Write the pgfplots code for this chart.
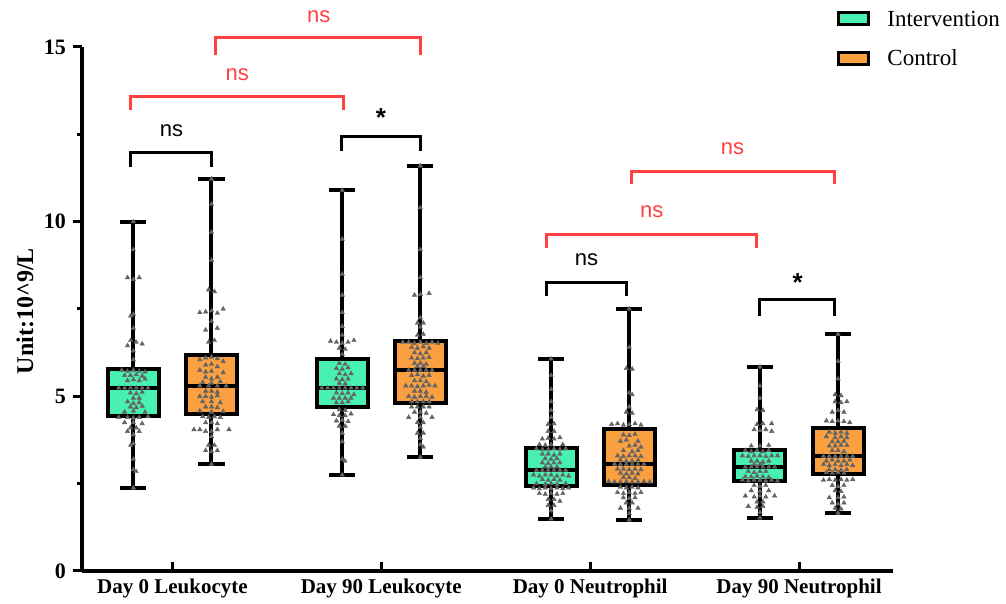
\documentclass[border=0pt]{standalone}
\usepackage{fontspec}
\setmainfont{Liberation Serif}
\newfontfamily\arial{Liberation Sans}
\usepackage{pgfplots}
\pgfplotsset{compat=1.18}
\usepgfplotslibrary{statistics}
\definecolor{interv}{RGB}{72,240,178}
\definecolor{ctrl}{RGB}{250,160,64}
\definecolor{sigred}{RGB}{255,64,64}
\definecolor{pts}{RGB}{100,100,100}
\begin{document}
\begin{tikzpicture}
\path[use as bounding box] (-41pt,-16.5pt) rectangle (462pt,285.5pt);
\begin{axis}[
 at={(0pt,0pt)}, anchor=south west,
 scale only axis, width=405.5pt, height=262pt,
 xmin=0.567, xmax=4.45, ymin=0, ymax=15,
 axis x line*=bottom, axis y line*=left,
 axis line style={line width=2pt},
 xtick={1,2,3,4},
 xticklabels={Day 0 Leukocyte, Day 90 Leukocyte, Day 0 Neutrophil, Day 90 Neutrophil},
 x tick label style={font=\fontsize{10.5}{12}\selectfont\bfseries, yshift=4pt},
 xtick style={draw=none},
 ytick={0,5,10,15}, minor ytick={2.5,7.5,12.5},
 tick align=outside,
 major tick length=4.5pt, minor tick length=2.5pt,
 ytick style={line width=1.5pt, black},
 y tick label style={font=\fontsize{11}{13}\selectfont\bfseries},
 /pgf/number format/assume math mode=true,
 clip=false,
 boxplot/draw direction=y,
 boxplot/box extend=0.244,
 boxplot/whisker extend=0.125,
 boxplot/every median/.style={line width=1.8pt},
]
% boxes
\addplot[boxplot prepared={lower whisker=2.38, lower quartile=4.44, median=5.24, upper quartile=5.78, upper whisker=10.0, draw position=0.813}, draw=black, fill=interv, line width=2pt] coordinates {};
\addplot[boxplot prepared={lower whisker=3.06, lower quartile=4.50, median=5.30, upper quartile=6.18, upper whisker=11.22, draw position=1.187}, draw=black, fill=ctrl, line width=2pt] coordinates {};
\addplot[boxplot prepared={lower whisker=2.75, lower quartile=4.70, median=5.24, upper quartile=6.07, upper whisker=10.9, draw position=1.813}, draw=black, fill=interv, line width=2pt] coordinates {};
\addplot[boxplot prepared={lower whisker=3.26, lower quartile=4.81, median=5.75, upper quartile=6.58, upper whisker=11.6, draw position=2.187}, draw=black, fill=ctrl, line width=2pt] coordinates {};
\addplot[boxplot prepared={lower whisker=1.49, lower quartile=2.43, median=2.89, upper quartile=3.52, upper whisker=6.07, draw position=2.813}, draw=black, fill=interv, line width=2pt] coordinates {};
\addplot[boxplot prepared={lower whisker=1.46, lower quartile=2.46, median=3.06, upper quartile=4.07, upper whisker=7.50, draw position=3.187}, draw=black, fill=ctrl, line width=2pt] coordinates {};
\addplot[boxplot prepared={lower whisker=1.52, lower quartile=2.58, median=2.98, upper quartile=3.46, upper whisker=5.84, draw position=3.813}, draw=black, fill=interv, line width=2pt] coordinates {};
\addplot[boxplot prepared={lower whisker=1.66, lower quartile=2.78, median=3.29, upper quartile=4.09, upper whisker=6.78, draw position=4.187}, draw=black, fill=ctrl, line width=2pt] coordinates {};
% points
\pgfplotsset{ptstyle/.style={only marks, mark=triangle*, mark size=1.3pt, pts, mark options={draw=pts, fill=pts, line width=0.2pt}}}
\addplot[ptstyle] coordinates {
(0.813,10.0) (0.813,9.2) (0.785,8.40) (0.841,8.40) (0.813,8.35) (0.813,7.35) (0.800,7.3) (0.813,6.95)
(0.800,6.6) (0.826,6.55) (0.785,6.45) (0.855,6.5) (0.813,6.3) (0.813,6.05)
(0.757,5.75) (0.785,5.72) (0.813,5.75) (0.841,5.72) (0.869,5.70)
(0.771,5.6) (0.799,5.6) (0.827,5.62) (0.855,5.58)
(0.785,5.45) (0.813,5.48) (0.841,5.45) (0.869,5.5)
(0.743,5.24) (0.771,5.24) (0.799,5.24) (0.827,5.24) (0.855,5.24) (0.883,5.24)
(0.799,5.1) (0.827,5.08) (0.855,5.12) (0.813,4.95) (0.841,4.95)
(0.785,4.85) (0.813,4.8) (0.841,4.82) (0.799,4.7) (0.827,4.68) (0.855,4.72)
(0.771,4.55) (0.813,4.58) (0.869,4.55)
(0.743,4.4) (0.785,4.4) (0.813,4.38) (0.841,4.4) (0.883,4.42)
(0.771,4.25) (0.813,4.25) (0.855,4.22) (0.799,4.1) (0.827,4.1) (0.785,4.0) (0.841,4.0)
(0.813,3.9) (0.813,3.65) (0.800,3.6) (0.813,3.2) (0.813,2.9) (0.826,2.85) (0.813,2.38)
};
\addplot[ptstyle] coordinates {
(1.187,11.22) (1.187,10.5) (1.187,9.7) (1.187,8.9) (1.173,8.05) (1.201,8.0)
(1.131,7.4) (1.159,7.42) (1.187,7.45) (1.215,7.38) (1.243,7.5) (1.187,7.15)
(1.159,6.9) (1.215,6.95) (1.173,6.55) (1.201,6.6)
(1.131,6.05) (1.159,6.1) (1.187,6.12) (1.215,6.08) (1.243,6.0)
(1.159,5.9) (1.187,5.92) (1.215,5.85)
(1.131,5.75) (1.159,5.7) (1.187,5.72) (1.243,5.68)
(1.159,5.55) (1.187,5.5) (1.215,5.55) (1.145,5.4) (1.187,5.38) (1.229,5.42)
(1.131,5.3) (1.173,5.3) (1.215,5.3) (1.257,5.3)
(1.159,5.15) (1.187,5.15) (1.215,5.12)
(1.131,5.0) (1.159,5.0) (1.187,4.98) (1.215,5.02)
(1.145,4.85) (1.187,4.85) (1.229,4.82) (1.159,4.7) (1.187,4.7) (1.215,4.68)
(1.131,4.58) (1.187,4.55) (1.243,4.57)
(1.145,4.42) (1.173,4.4) (1.201,4.42) (1.229,4.4)
(1.159,4.25) (1.187,4.25) (1.215,4.22)
(1.103,4.05) (1.131,4.05) (1.159,4.0) (1.187,4.0) (1.215,4.05) (1.271,4.05)
(1.187,3.85) (1.173,3.6) (1.201,3.6) (1.159,3.45) (1.187,3.42) (1.215,3.45) (1.187,3.06)
};
\addplot[ptstyle] coordinates {
(1.813,10.9) (1.813,9.5) (1.813,8.5) (1.813,7.9) (1.813,7.4) (1.813,7.0) (1.813,6.75)
(1.757,6.58) (1.785,6.55) (1.813,6.52) (1.841,6.55) (1.869,6.6) (1.799,6.38) (1.827,6.35) (1.813,6.2)
(1.799,5.95) (1.827,5.92) (1.785,5.8) (1.813,5.78) (1.841,5.82)
(1.799,5.65) (1.827,5.62) (1.855,5.65) (1.785,5.5) (1.813,5.48) (1.841,5.5) (1.799,5.38) (1.827,5.36)
(1.715,5.24) (1.743,5.24) (1.771,5.24) (1.799,5.24) (1.827,5.24) (1.855,5.24) (1.883,5.24) (1.911,5.24)
(1.785,5.1) (1.813,5.08) (1.841,5.1) (1.869,5.05)
(1.771,4.95) (1.799,4.95) (1.827,4.95) (1.855,4.95) (1.785,4.82) (1.813,4.82) (1.841,4.85)
(1.799,4.62) (1.827,4.6) (1.771,4.48) (1.799,4.45) (1.827,4.45) (1.855,4.5)
(1.785,4.3) (1.813,4.32) (1.841,4.28) (1.799,4.15) (1.827,4.15)
(1.813,3.95) (1.813,3.7) (1.813,3.2) (1.826,3.15) (1.813,2.75)
};
\addplot[ptstyle] coordinates {
(2.187,11.6) (2.187,10.4) (2.187,9.2) (2.187,8.4) (2.159,7.9) (2.187,7.92) (2.229,7.95)
(2.187,7.25) (2.173,7.1) (2.201,7.1) (2.187,6.98) (2.173,6.75) (2.201,6.78)
(2.103,6.55) (2.131,6.55) (2.159,6.52) (2.187,6.55) (2.215,6.52) (2.243,6.55) (2.271,6.52)
(2.145,6.4) (2.173,6.38) (2.201,6.42) (2.229,6.38) (2.159,6.25) (2.187,6.22) (2.215,6.25)
(2.145,6.1) (2.173,6.08) (2.201,6.1) (2.229,6.12) (2.159,5.95) (2.187,5.95) (2.215,5.92)
(2.173,5.85) (2.201,5.85)
(2.131,5.75) (2.159,5.75) (2.187,5.75) (2.215,5.75) (2.243,5.75)
(2.145,5.6) (2.173,5.62) (2.201,5.58) (2.229,5.6) (2.159,5.45) (2.187,5.45) (2.215,5.42)
(2.117,5.3) (2.145,5.3) (2.173,5.28) (2.201,5.3) (2.229,5.32) (2.257,5.3)
(2.159,5.15) (2.187,5.15) (2.215,5.12)
(2.131,5.0) (2.159,4.98) (2.187,5.0) (2.215,5.0) (2.243,4.98)
(2.145,4.85) (2.173,4.85) (2.201,4.85) (2.229,4.85)
(2.145,4.7) (2.173,4.7) (2.201,4.7) (2.229,4.7) (2.159,4.55) (2.187,4.55) (2.215,4.52)
(2.131,4.4) (2.187,4.4) (2.243,4.4) (2.173,4.25) (2.201,4.25) (2.187,4.12)
(2.173,3.95) (2.201,3.95) (2.187,3.8) (2.187,3.62) (2.201,3.55) (2.187,3.26)
};
\addplot[ptstyle] coordinates {
(2.813,6.07) (2.813,5.6) (2.813,5.2) (2.813,4.85) (2.813,4.6) (2.813,4.4)
(2.799,4.2) (2.827,4.22) (2.799,4.0) (2.827,4.0)
(2.771,3.78) (2.799,3.8) (2.827,3.78) (2.855,3.82) (2.757,3.62) (2.785,3.6) (2.813,3.62) (2.869,3.62)
(2.743,3.5) (2.771,3.48) (2.799,3.48) (2.827,3.5) (2.855,3.48) (2.883,3.5)
(2.771,3.35) (2.799,3.35) (2.827,3.32) (2.855,3.35) (2.785,3.22) (2.813,3.2) (2.841,3.22)
(2.771,3.1) (2.799,3.08) (2.827,3.1) (2.855,3.1) (2.785,2.98) (2.813,2.98) (2.841,2.98)
(2.743,2.89) (2.771,2.89) (2.799,2.89) (2.827,2.89) (2.855,2.89) (2.883,2.89)
(2.729,2.75) (2.757,2.72) (2.785,2.75) (2.813,2.75) (2.841,2.72) (2.869,2.75) (2.897,2.72)
(2.771,2.62) (2.799,2.6) (2.827,2.62) (2.855,2.6)
(2.743,2.5) (2.785,2.48) (2.813,2.5) (2.841,2.48) (2.883,2.5)
(2.729,2.38) (2.757,2.36) (2.785,2.38) (2.813,2.36) (2.841,2.38) (2.869,2.36) (2.897,2.38)
(2.757,2.22) (2.785,2.2) (2.813,2.22) (2.841,2.2) (2.869,2.22)
(2.799,2.05) (2.827,2.05) (2.855,2.0) (2.799,1.88) (2.827,1.88) (2.813,1.72) (2.813,1.49)
};
\addplot[ptstyle] coordinates {
(3.187,7.5) (3.187,6.4) (3.173,5.8) (3.201,5.78) (3.187,5.1) (3.201,5.05) (3.187,4.7)
(3.173,4.55) (3.201,4.52)
(3.103,4.2) (3.131,4.22) (3.159,4.18) (3.187,4.2) (3.215,4.22) (3.243,4.18)
(3.159,3.9) (3.187,3.88) (3.215,3.92) (3.145,3.72) (3.173,3.75) (3.229,3.72)
(3.187,3.58) (3.215,3.6) (3.243,3.55) (3.159,3.45) (3.201,3.42) (3.229,3.45)
(3.131,3.3) (3.159,3.28) (3.187,3.3) (3.215,3.3) (3.243,3.28)
(3.145,3.18) (3.173,3.15) (3.201,3.15) (3.229,3.18)
(3.117,3.06) (3.145,3.06) (3.173,3.06) (3.201,3.06) (3.229,3.06) (3.257,3.06)
(3.131,2.92) (3.159,2.92) (3.187,2.9) (3.215,2.92) (3.243,2.9)
(3.145,2.8) (3.173,2.78) (3.201,2.8) (3.229,2.78) (3.159,2.68) (3.187,2.68) (3.215,2.65)
(3.089,2.56) (3.117,2.55) (3.145,2.55) (3.173,2.56) (3.201,2.55) (3.229,2.55) (3.257,2.56) (3.285,2.55)
(3.145,2.4) (3.173,2.38) (3.201,2.4) (3.229,2.38)
(3.131,2.25) (3.159,2.22) (3.187,2.25) (3.215,2.22) (3.243,2.25)
(3.159,2.1) (3.187,2.08) (3.215,2.1) (3.173,1.95) (3.201,1.95)
(3.145,1.8) (3.187,1.8) (3.229,1.8) (3.187,1.65) (3.187,1.46)
};
\addplot[ptstyle] coordinates {
(3.813,5.84) (3.813,5.3) (3.813,4.95) (3.799,4.62) (3.827,4.6)
(3.799,4.2) (3.827,4.22) (3.869,4.22) (3.785,4.05) (3.813,4.02) (3.841,4.05) (3.869,4.0)
(3.771,3.58) (3.813,3.58) (3.855,3.6)
(3.743,3.45) (3.771,3.42) (3.799,3.45) (3.827,3.42) (3.855,3.45)
(3.729,3.3) (3.757,3.28) (3.785,3.3) (3.813,3.3) (3.841,3.28) (3.869,3.3) (3.897,3.3)
(3.771,3.15) (3.799,3.15) (3.827,3.12) (3.855,3.15) (3.785,3.05) (3.813,3.05)
(3.743,2.98) (3.771,2.98) (3.799,2.98) (3.827,2.98) (3.855,2.98) (3.883,2.98)
(3.757,2.85) (3.785,2.82) (3.813,2.85) (3.841,2.85)
(3.743,2.7) (3.771,2.7) (3.799,2.72) (3.827,2.7) (3.855,2.68)
(3.729,2.6) (3.757,2.58) (3.785,2.6) (3.813,2.6) (3.841,2.58) (3.869,2.6) (3.897,2.58)
(3.785,2.45) (3.813,2.42) (3.841,2.45) (3.771,2.3) (3.813,2.28) (3.855,2.3)
(3.743,2.15) (3.785,2.12) (3.813,2.15) (3.841,2.12) (3.883,2.15)
(3.799,1.98) (3.827,1.98) (3.757,1.85) (3.799,1.82) (3.827,1.85) (3.813,1.68) (3.813,1.52)
};
\addplot[ptstyle] coordinates {
(4.187,6.78) (4.187,6.0) (4.187,5.5) (4.173,5.05) (4.201,5.02)
(4.173,4.85) (4.201,4.82) (4.229,4.85) (4.187,4.6) (4.215,4.55) (4.159,4.55)
(4.131,4.3) (4.159,4.28) (4.187,4.3) (4.215,4.28) (4.243,4.25)
(4.145,3.98) (4.173,3.95) (4.201,3.98) (4.229,3.95) (4.131,3.85) (4.173,3.82) (4.201,3.85) (4.229,3.82)
(4.159,3.7) (4.187,3.7) (4.215,3.72) (4.145,3.58) (4.173,3.58) (4.201,3.6) (4.229,3.6)
(4.159,3.45) (4.187,3.45) (4.215,3.42)
(4.117,3.29) (4.145,3.29) (4.173,3.29) (4.201,3.29) (4.229,3.29) (4.257,3.29)
(4.131,3.15) (4.159,3.18) (4.187,3.15) (4.215,3.15) (4.243,3.18)
(4.117,3.05) (4.145,3.02) (4.173,3.05) (4.201,3.02) (4.229,3.05) (4.257,3.02)
(4.145,2.9) (4.173,2.9) (4.201,2.88) (4.229,2.9) (4.131,2.82) (4.159,2.8) (4.187,2.82) (4.215,2.8)
(4.117,2.6) (4.145,2.62) (4.173,2.6) (4.201,2.62) (4.229,2.6) (4.257,2.62)
(4.159,2.45) (4.187,2.42) (4.215,2.45) (4.173,2.3) (4.201,2.28)
(4.145,2.1) (4.187,2.1) (4.215,2.12) (4.159,1.95) (4.187,1.92) (4.215,1.95)
(4.173,1.8) (4.201,1.78) (4.187,1.66)
};
% significance brackets
\pgfplotsset{brk/.style={sharp plot, no marks, line width=1.5pt}}
\addplot[brk, black] coordinates {(0.801,11.57) (0.801,11.98) (1.189,11.98) (1.189,11.57)};
\addplot[brk, sigred] coordinates {(0.801,13.19) (0.801,13.58) (1.820,13.58) (1.820,13.19)};
\addplot[brk, sigred] coordinates {(1.208,14.77) (1.208,15.27) (2.189,15.27) (2.189,14.77)};
\addplot[brk, black] coordinates {(1.811,12.02) (1.811,12.45) (2.189,12.45) (2.189,12.02)};
\addplot[brk, black] coordinates {(2.792,7.87) (2.792,8.25) (3.175,8.25) (3.175,7.87)};
\addplot[brk, sigred] coordinates {(2.792,9.25) (2.792,9.62) (3.797,9.62) (3.797,9.25)};
\addplot[brk, sigred] coordinates {(3.199,11.08) (3.199,11.43) (4.170,11.43) (4.170,11.08)};
\addplot[brk, black] coordinates {(3.811,7.30) (3.811,7.76) (4.170,7.76) (4.170,7.30)};
\node[font=\arial\fontsize{11}{13}\selectfont] at (axis cs:0.995,12.6) {ns};
\node[font=\arial\fontsize{11}{13}\selectfont, text=sigred] at (axis cs:1.31,14.2) {ns};
\node[font=\arial\fontsize{11}{13}\selectfont, text=sigred] at (axis cs:1.70,15.86) {ns};
\node[font=\arial\bfseries\fontsize{13}{15}\selectfont] at (axis cs:1.998,12.97) {*};
\node[font=\arial\fontsize{11}{13}\selectfont] at (axis cs:2.983,8.9) {ns};
\node[font=\arial\fontsize{11}{13}\selectfont, text=sigred] at (axis cs:3.295,10.28) {ns};
\node[font=\arial\fontsize{11}{13}\selectfont, text=sigred] at (axis cs:3.682,12.08) {ns};
\node[font=\arial\bfseries\fontsize{13}{15}\selectfont] at (axis cs:3.993,8.27) {*};
% x ticks (inward)
\draw[line width=1.5pt] (axis cs:1,0) -- ++(0pt,4.5pt);
\draw[line width=1.5pt] (axis cs:2,0) -- ++(0pt,4.5pt);
\draw[line width=1.5pt] (axis cs:3,0) -- ++(0pt,4.5pt);
\draw[line width=1.5pt] (axis cs:4,0) -- ++(0pt,4.5pt);
% y label
\node[rotate=90, font=\fontsize{12}{14}\selectfont\bfseries] at (axis description cs:-0.0703,0.496) {Unit:10\textasciicircum 9/L};
\end{axis}
% legend
\draw[line width=1.5pt, fill=interv] (378pt,279pt) rectangle (393pt,273pt);
\node[anchor=base west, inner sep=0pt, font=\fontsize{11.5}{13}\selectfont] at (402.5pt,272pt) {Intervention};
\draw[line width=1.5pt, fill=ctrl] (378pt,259pt) rectangle (393pt,253pt);
\node[anchor=base west, inner sep=0pt, font=\fontsize{11.5}{13}\selectfont] at (402.5pt,252.5pt) {Control};
\end{tikzpicture}
\end{document}
